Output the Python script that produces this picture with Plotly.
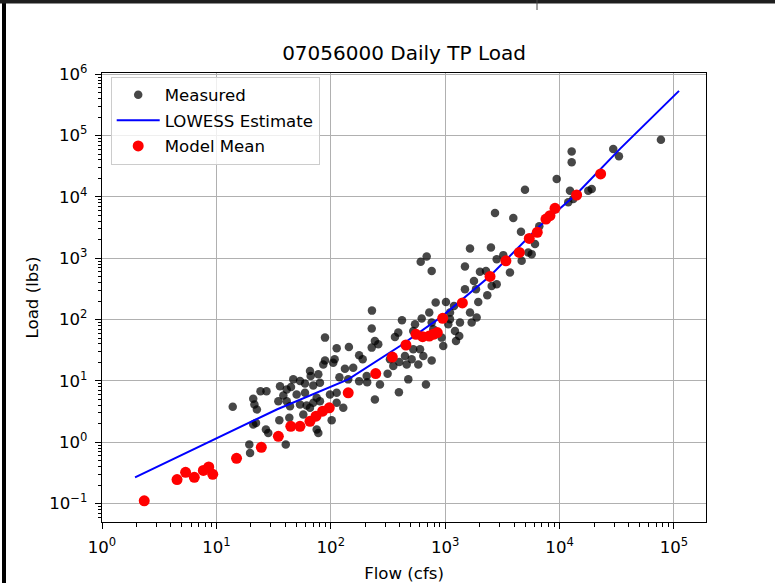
import plotly.graph_objects as go

# Measured daily flow (cfs) and total-phosphorus load (lbs)
measured_flow = [
    13.9, 21.0, 21.5, 22.6, 24.3, 27.4, 36.0, 38.5, 41.2, 44.9, 47.0, 53.8, 59.5,
    70.3, 80.4, 34.8, 41.2, 53.8, 61.5, 70.3, 80.4, 98.4, 112.6, 128.6, 21.0,
    22.2, 27.1, 28.4, 35.5, 43.4, 57.5, 75.3, 77.8, 101.8, 19.4, 19.7, 40.4,
    50.3, 59.5, 75.3, 112.6, 65.8, 44.0,
    611, 689, 762, 229, 228, 419, 826, 1016, 726, 623, 545, 526, 389, 364, 243,
    260, 228, 177, 190, 144, 112.6, 89.0, 89.0, 86.0, 108, 105, 133, 157, 119,
    142, 177, 206, 208, 269, 314, 329, 352, 397, 445, 461, 509, 526, 603, 582,
    644, 762, 962, 931, 1064, 394, 476, 679, 65.8, 66.7, 77.8, 762, 787, 1102,
    1102, 243,
    12760, 12760, 29450, 33040, 9440, 4984, 12330, 17820, 19100, 2725, 3940,
    4598, 1648, 2512, 1489, 2820, 3221, 3683, 4663, 5325, 5702, 6098, 6646,
    2014, 2273, 2820, 2550, 2334, 1946, 1859, 1489, 1785, 1194, 1648, 1884,
    1704, 1347, 1218, 1328, 1243, 13180, 11910, 76900,
]
measured_load = [
    3.79, 5.12, 4.13, 3.42, 6.81, 6.81, 8.22, 5.79, 7.26, 7.98, 10.6, 10.0, 9.10,
    8.44, 9.35, 4.68, 4.68, 4.13, 3.98, 4.40, 4.68, 6.02, 6.41, 3.65, 1.95,
    2.07, 1.61, 1.42, 2.29, 2.50, 2.84, 1.61, 1.42, 2.29, 0.917, 0.671, 0.917,
    6.02, 6.41, 5.31, 4.40, 3.65, 3.88,
    873, 1069, 622, 140, 71.3, 97.4, 190, 194, 130, 104, 83.8, 65.1, 61.3, 51.9,
    44.7, 39.5, 34.9, 26.1, 22.5, 35.7, 34.0, 50.8, 21.6, 18.6, 22.5, 19.8,
    15.8, 16.4, 11.5, 10.6, 9.92, 12.0, 9.55, 8.77, 13.1, 22.5, 17.5, 20.3,
    25.4, 18.6, 22.5, 32.7, 32.7, 18.6, 25.4, 21.6, 37.0, 50.8, 83.8, 6.56,
    10.6, 8.77, 14.5, 12.0, 12.8, 89.3, 69.4, 130, 101, 4.99,
    54770, 36740, 60630, 46060, 19610, 13110, 12620, 12620, 13460, 5458, 4519,
    2700, 1445, 1502, 735, 966, 1124, 586, 907, 1244, 1167, 1700, 3308,
    600, 622, 377, 354, 249, 194, 313, 313, 427, 167, 130, 108,
    89.3, 89.3, 65.1, 54.0, 44.7, 9240, 8162, 85100,
]

# LOWESS fit of load against flow
lowess_flow = [1.945, 33.7, 142, 403, 951, 2466, 6745, 14090, 33730, 110700]
lowess_load = [0.268, 3.42, 10.6, 37.1, 115, 515, 3381, 11140, 60670, 535800]

# Regression model mean load
mean_flow = [
    2.34, 4.53, 5.38, 6.41, 7.69, 8.57, 9.29, 15.0, 24.7, 34.8, 44.7, 53.8,
    65.8, 74.3, 84.9, 97.0, 142, 247, 345, 454, 556, 635, 726, 787, 853, 951,
    1413, 2466, 3396, 4446, 5433, 6383, 7603, 8241, 9120, 14090, 22860,
]
mean_load = [
    0.111, 0.246, 0.324, 0.268, 0.348, 0.396, 0.300, 0.548, 0.828, 1.25, 1.82,
    1.82, 2.20, 2.66, 3.21, 3.65, 6.41, 13.2, 24.5, 38.5, 57.5, 52.7, 54.0,
    57.5, 61.4, 105, 187, 505, 908, 1245, 2104, 2642, 4355, 4932, 6516, 10740,
    23660,
]

x_ticks = [1, 10, 100, 1000, 10000, 100000]
x_tick_labels = ["10<sup>0</sup>", "10<sup>1</sup>", "10<sup>2</sup>",
                 "10<sup>3</sup>", "10<sup>4</sup>", "10<sup>5</sup>"]
y_ticks = [0.1, 1, 10, 100, 1000, 10000, 100000, 1000000]
y_tick_labels = ["10<sup>\u22121</sup>", "10<sup>0</sup>", "10<sup>1</sup>",
                 "10<sup>2</sup>", "10<sup>3</sup>", "10<sup>4</sup>",
                 "10<sup>5</sup>", "10<sup>6</sup>"]

FONT = "DejaVu Sans"

fig = go.Figure()
fig.add_trace(go.Scatter(
    x=measured_flow, y=measured_load, mode="markers", name="Measured",
    legendgroup="measured",
    marker=dict(color="rgba(0,0,0,0.72)", size=8.5, line=dict(width=0)),
))
fig.add_trace(go.Scatter(
    x=lowess_flow, y=lowess_load, mode="lines", name="LOWESS Estimate",
    legendgroup="lowess",
    line=dict(color="#0000ff", width=2),
))
fig.add_trace(go.Scatter(
    x=mean_flow, y=mean_load, mode="markers", name="Model Mean",
    legendgroup="mean",
    marker=dict(color="#ff0000", size=11, line=dict(width=0)),
))

axis_common = dict(
    type="log",
    automargin=False,
    showline=True, linecolor="black", linewidth=1.4, mirror=True,
    showgrid=True, gridcolor="#b0b0b0", gridwidth=1.3,
    zeroline=False,
    ticks="outside", ticklen=6, tickwidth=1.3, tickcolor="black",
    ticklabelstandoff=4,
    tickfont=dict(family=FONT, size=16.6, color="black"),
    minor=dict(ticks="outside", ticklen=3.3, tickwidth=1, tickcolor="black",
               dtick="D1", showgrid=False),
)

fig.update_xaxes(
    **axis_common,
    range=[0, 5.28],
    tickvals=x_ticks, ticktext=x_tick_labels,
    title=dict(text="Flow (cfs)", font=dict(family=FONT, size=16.6, color="black"),
               standoff=11),
)
fig.update_yaxes(
    **axis_common,
    range=[-1.30, 6.02],
    tickvals=y_ticks, ticktext=y_tick_labels,
    title=dict(text="Load (lbs)", font=dict(family=FONT, size=16.6, color="black"),
               standoff=6),
)

# Figure frame: heavy left and top edges plus a short notch on the top edge
W, H = 775, 583
L, R, T, B = 102, 69, 73, 61
pw, ph = W - L - R, H - T - B


def px_x(px):
    return (px - L) / pw


def px_y(py):
    return (H - B - py) / ph


fig.add_shape(type="line", xref="paper", yref="paper",
              x0=px_x(4), x1=px_x(4), y0=px_y(H), y1=px_y(0),
              line=dict(color="black", width=4))
fig.add_shape(type="line", xref="paper", yref="paper",
              x0=px_x(0), x1=px_x(W), y0=px_y(1.7), y1=px_y(1.7),
              line=dict(color="#1e1e1e", width=3.5))
fig.add_shape(type="line", xref="paper", yref="paper",
              x0=px_x(537), x1=px_x(537), y0=px_y(0), y1=px_y(10),
              line=dict(color="#444444", width=1))

fig.update_layout(
    width=W, height=H,
    margin=dict(l=L, r=R, t=T, b=B, autoexpand=False),
    paper_bgcolor="white", plot_bgcolor="white",
    font=dict(family=FONT, color="black"),
    title=dict(text="07056000 Daily TP Load", x=0.5, xref="paper",
               y=(H - 53) / H, yref="container", xanchor="center", yanchor="middle",
               font=dict(family=FONT, size=20, color="black")),
    showlegend=True,
    legend=dict(x=px_x(110.7), y=px_y(76.5), xanchor="left", yanchor="top",
                bgcolor="rgba(255,255,255,0.8)", bordercolor="#cccccc", borderwidth=1,
                font=dict(family=FONT, size=16.6, color="black"),
                tracegroupgap=1, itemwidth=43),
)

fig.write_html("out.html")
